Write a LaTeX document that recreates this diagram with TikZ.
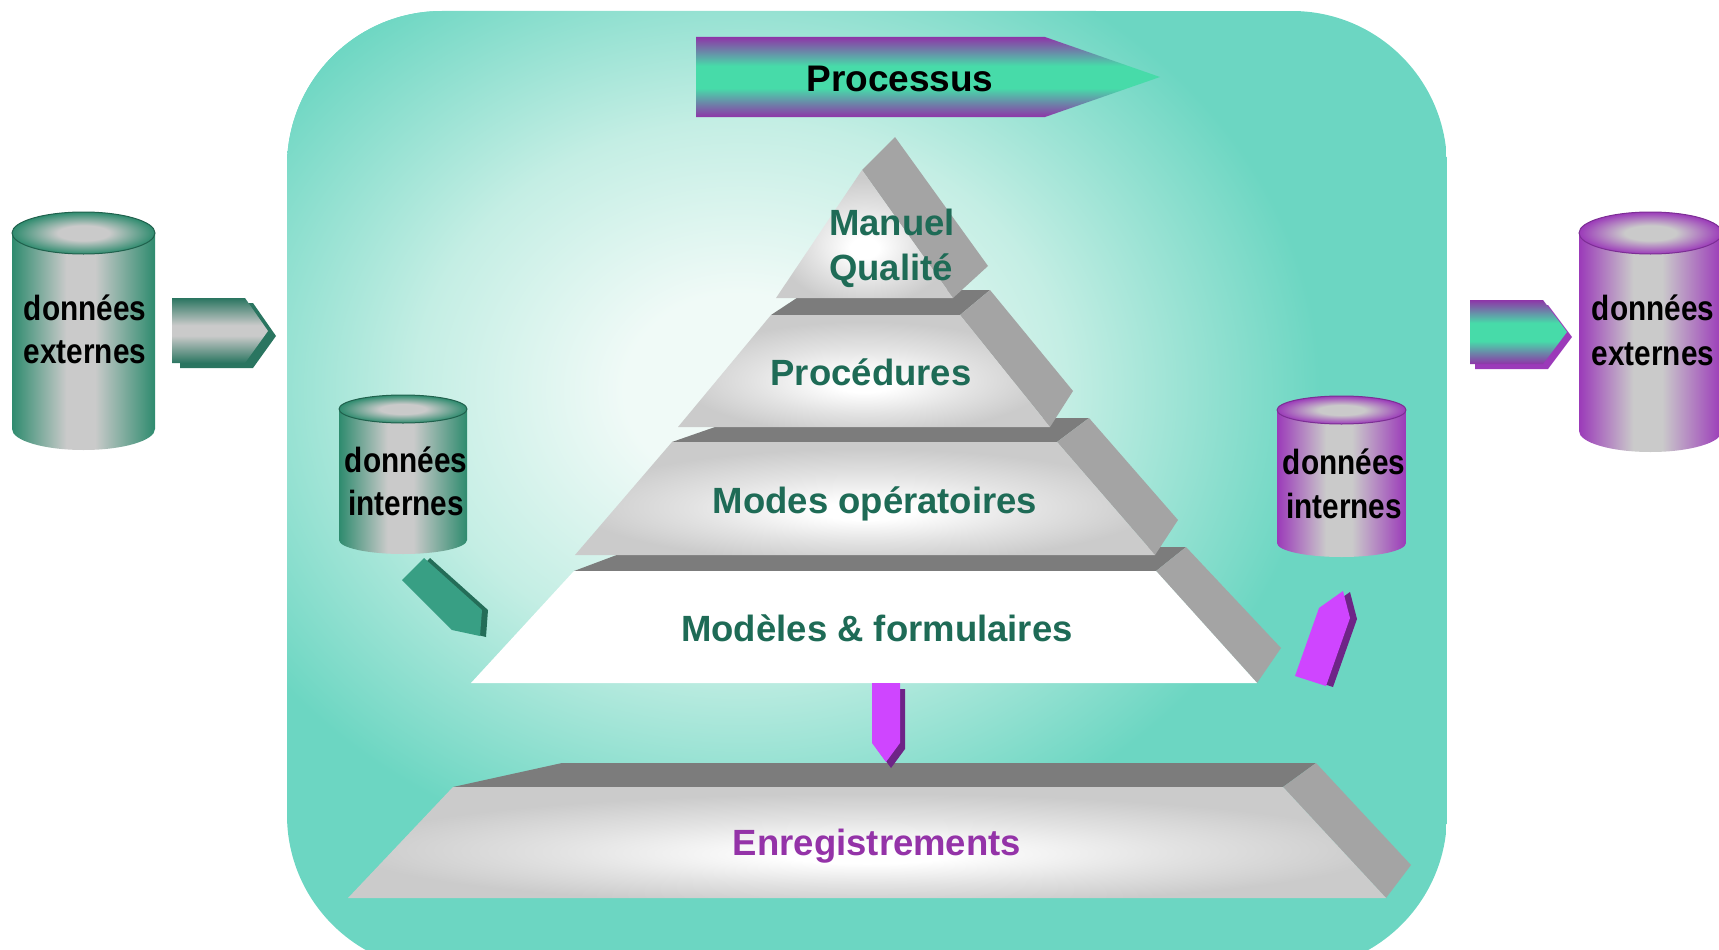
\documentclass[tikz,border=0pt]{standalone}
\usepackage{fontspec}
\setmainfont{Liberation Sans}
\newfontfamily\cylfont{Liberation Sans}[FakeStretch=0.85]
\definecolor{teal1}{HTML}{6CD6C2}
\definecolor{glowc}{HTML}{F0FAF7}
\definecolor{glowm}{HTML}{C4EEE4}
\definecolor{txtgreen}{HTML}{1E6B56}
\definecolor{txtpurple}{HTML}{9433A8}
\definecolor{shelfgray}{HTML}{7C7C7C}
\definecolor{sidegray}{HTML}{A4A4A4}
\definecolor{fgray}{HTML}{CBCBCB}
\definecolor{fgl}{HTML}{E2E2E2}
\definecolor{cg}{HTML}{2E8B6E}
\definecolor{cgray}{HTML}{CACACA}
\definecolor{cpur}{HTML}{9B3AB9}
\definecolor{arrdkg}{HTML}{2A7560}
\definecolor{ppur}{HTML}{8E35A8}
\definecolor{pgrn}{HTML}{47DBA9}
\definecolor{magm}{HTML}{CF45FF}
\definecolor{mags}{HTML}{6E2487}
\definecolor{grnm}{HTML}{389F84}
\definecolor{grns}{HTML}{246D58}
\pgfdeclareradialshading{bgglow}{\pgfpoint{0bp}{0bp}}{color(0bp)=(glowc); color(5bp)=(glowc); color(14bp)=(glowm); color(25bp)=(teal1); color(50bp)=(teal1)}
\pgfdeclareradialshading{facetglow}{\pgfpoint{0bp}{-6bp}}{color(0bp)=(white); color(4bp)=(white); color(15bp)=(fgl); color(25bp)=(fgray); color(50bp)=(fgray)}
\pgfdeclareverticalshading{procsh}{100bp}{color(0bp)=(ppur); color(25bp)=(ppur); color(43bp)=(pgrn); color(57bp)=(pgrn); color(75bp)=(ppur); color(100bp)=(ppur)}
\pgfdeclareverticalshading{lgarr}{100bp}{color(0bp)=(arrdkg); color(25bp)=(arrdkg); color(46bp)=(cgray); color(54bp)=(cgray); color(75bp)=(arrdkg); color(100bp)=(arrdkg)}
\pgfdeclarehorizontalshading{cylg}{100bp}{color(0bp)=(cg); color(25bp)=(cg); color(44bp)=(cgray); color(54bp)=(cgray); color(75bp)=(cg); color(100bp)=(cg)}
\pgfdeclarehorizontalshading{cylp}{100bp}{color(0bp)=(cpur); color(25bp)=(cpur); color(44bp)=(cgray); color(54bp)=(cgray); color(75bp)=(cpur); color(100bp)=(cpur)}
\pgfdeclareradialshading{topg}{\pgfpoint{0bp}{0bp}}{color(0bp)=(cgray); color(9bp)=(cgray); color(25bp)=(cg); color(50bp)=(cg)}
\pgfdeclareradialshading{topp}{\pgfpoint{0bp}{0bp}}{color(0bp)=(cgray); color(9bp)=(cgray); color(25bp)=(cpur); color(50bp)=(cpur)}
\newcommand{\drawcyl}[8]{%
  \shade[shading=#6] ({#1-#2},#3) -- ({#1-#2},#4) arc[start angle=180,end angle=0,x radius=#2,y radius=#5] -- ({#1+#2},#3) -- cycle;
  \shade[shading=#7] (#1,#3) ellipse[x radius=#2, y radius=#5];
  \draw[#8, line width=1pt] (#1,#3) ellipse[x radius=#2, y radius=#5];
}
\tikzset{
  shelf/.style={fill=shelfgray},
  side/.style={fill=sidegray},
  facet/.style={shading=facetglow},
  glabel/.style={font=\fontsize{36.5}{45}\selectfont\bfseries, text=txtgreen, anchor=base, inner sep=0pt},
  plabel/.style={font=\fontsize{37}{45}\selectfont\bfseries, text=black, anchor=base, inner sep=0pt},
  clabel/.style={font=\cylfont\fontsize{35}{43}\selectfont\bfseries, text=black, anchor=base, inner sep=0pt}
}
\begin{document}
\begin{tikzpicture}[x=1pt,y=-1pt,line join=round]
\useasboundingbox (0,0) rectangle (1719,950);
% background panel
\begin{scope}
  \clip[rounded corners=155pt] (287,11) rectangle (1447,970);
  \fill[teal1] (287,11) rectangle (1447,970);
  \shade[shading=bgglow] (740,390) ellipse[x radius=580, y radius=480];
\end{scope}
% Processus arrow
\shade[shading=procsh] (696,37) -- (1045,37) -- (1160,77) -- (1045,117) -- (696,117) -- cycle;
\node[plabel] (processus) at (900,92) {Processus};
% cylinders
\drawcyl{83.5}{71.5}{233}{429}{21}{cylg}{topg}{cg!70!black}
\drawcyl{403}{64}{409}{540}{14}{cylg}{topg}{cg!70!black}
\drawcyl{1341.5}{64.5}{410}{543}{14}{cylp}{topp}{cpur!80!black}
\drawcyl{1650.5}{71.5}{233}{431}{21}{cylp}{topp}{cpur!80!black}
\node[clabel] (le1) at (85,320) {données};
\node[clabel] (le2) at (85,363) {externes};
\node[clabel] (li1) at (406,472) {données};
\node[clabel] (li2) at (406,515) {internes};
\node[clabel] (ri1) at (1344,474) {données};
\node[clabel] (ri2) at (1344,518) {internes};
\node[clabel] (re1) at (1653,320) {données};
\node[clabel] (re2) at (1653,365) {externes};
% small side arrows
\fill[arrdkg] (180,303) -- (253,303) -- (276,336) -- (253,368) -- (180,368) -- cycle;
\shade[shading=lgarr] (172,298) -- (245,298) -- (268,331) -- (245,363) -- (172,363) -- cycle;
\fill[cpur] (1475,305) -- (1548,305) -- (1572,337) -- (1548,369) -- (1475,369) -- cycle;
\shade[shading=procsh] (1470,300) -- (1543,300) -- (1567,332) -- (1543,364) -- (1470,364) -- cycle;
% Enregistrements
\fill[shelf] (453,787) -- (562,763) -- (1316,763) -- (1283,787) -- cycle;
\fill[side] (1283,787) -- (1316,763) -- (1411,865) -- (1386,898) -- cycle;
\shade[facet] (453,787) -- (1283,787) -- (1386,898) -- (348,898) -- cycle;
% Modeles
\fill[shelf] (574,571) -- (638,547) -- (1186,547) -- (1156,571) -- cycle;
\fill[side] (1156,571) -- (1186,547) -- (1281,648) -- (1257,683) -- cycle;
\fill[white] (574,571) -- (1156,571) -- (1257,683) -- (471,683) -- cycle;
% Modes
\fill[shelf] (672,442) -- (741,418) -- (1089,418) -- (1057,442) -- cycle;
\fill[side] (1057,442) -- (1089,418) -- (1178,520) -- (1155,555) -- cycle;
\shade[facet] (672,442) -- (1057,442) -- (1155,555) -- (575,555) -- cycle;
% Procedures
\fill[shelf] (771,315) -- (809,290) -- (990,290) -- (960,315) -- cycle;
\fill[side] (960,315) -- (990,290) -- (1073,391) -- (1050,427) -- cycle;
\shade[facet] (771,315) -- (960,315) -- (1050,427) -- (678,427) -- cycle;
% Manuel Qualite
\fill[side] (862,170) -- (895,137) -- (988,266) -- (953,298) -- cycle;
\shade[facet] (862,170) -- (953,298) -- (776,298) -- cycle;
% labels
\node[glabel] (mq1) at (892,235) {Manuel};
\node[glabel] (mq2) at (891,280) {Qualité};
\node[glabel] (procedures) at (871,385) {Procédures};
\node[glabel] (modes) at (875,513) {Modes opératoires};
\node[glabel] (modeles) at (877,641) {Modèles \& formulaires};
\node[glabel, text=txtpurple] (enreg) at (877,855) {Enregistrements};
% magenta arrows
\fill[mags] (877,689) -- (905,689) -- (905,749) -- (891,768) -- (877,749) -- cycle;
\fill[magm] (872,683) -- (900,683) -- (900,743) -- (886,762) -- (872,743) -- cycle;
\fill[mags] (1326,609) -- (1350,592) -- (1357,619) -- (1333,687) -- (1302,677) -- cycle;
\fill[magm] (1319,608) -- (1343,591) -- (1350,618) -- (1326,686) -- (1295,676) -- cycle;
% green arrow
\fill[grns] (408,580) -- (430,558) -- (488,610) -- (486,637) -- (458,630) -- cycle;
\fill[grnm] (402,580) -- (424,558) -- (482,610) -- (480,636) -- (452,630) -- cycle;
\end{tikzpicture}
\end{document}
